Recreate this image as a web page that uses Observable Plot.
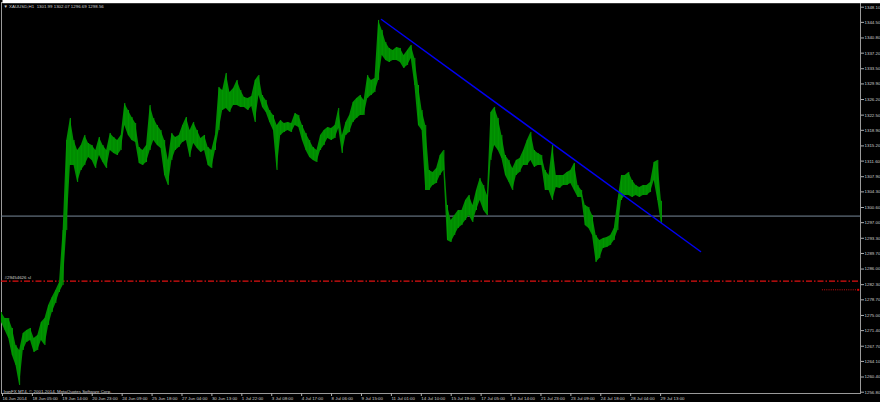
<!DOCTYPE html>
<html><head><meta charset="utf-8">
<script src="https://cdn.jsdelivr.net/npm/d3@7"></script>
<script src="https://cdn.jsdelivr.net/npm/@observablehq/plot@0.6"></script>
<style>
html,body{margin:0;padding:0;background:#000;overflow:hidden;}
#chart{width:880px;height:402px;}
</style></head><body><div id="chart"></div>
<script>
const symbolTitle = "XAUUSD,H1  1301.99 1302.07 1296.69 1298.56";
const copyright = "IronFX MT4, \u00a9 2001-2014, MetaQuotes Software Corp.";
const barStep = 4;            // one sample every 4 hourly bars
const visibleBars = 947.6;    // bars shown across the window

const highs = [1275.70,1274.28,1274.28,1271.91,1267.88,1266.69,1270.72,1271.43,1271.91,1269.54,
1270.25,1273.33,1274.28,1277.36,1279.26,1280.92,1282.82,1295.15,1316.49,1321.71,
1316.49,1314.12,1315.30,1317.68,1315.78,1315.30,1314.12,1317.20,1315.30,1314.12,
1318.15,1317.20,1316.49,1317.68,1325.26,1323.60,1321.94,1320.52,1314.83,1314.12,
1315.30,1324.79,1321.71,1320.05,1318.86,1316.49,1311.75,1318.15,1317.20,1317.68,
1320.05,1321.94,1318.86,1320.76,1318.86,1316.96,1317.68,1314.83,1314.12,1317.68,
1329.06,1328.35,1332.38,1327.87,1328.82,1330.72,1328.35,1326.69,1326.45,1326.92,
1330.72,1331.90,1327.16,1325.98,1323.60,1322.42,1320.05,1321.23,1320.52,1320.76,
1320.52,1322.89,1322.42,1320.05,1318.15,1316.49,1314.83,1314.12,1317.68,1318.86,
1319.57,1319.34,1320.05,1324.08,1317.68,1320.76,1322.42,1325.50,1326.45,1327.16,
1325.98,1331.90,1330.72,1331.19,1344.95,1342.58,1339.73,1338.31,1337.83,1338.54,
1338.31,1336.65,1337.83,1339.02,1335.94,1329.53,1323.60,1320.05,1309.38,1308.90,
1309.85,1312.93,1314.12,1301.08,1297.52,1298.70,1299.89,1299.89,1302.26,1303.45,
1301.08,1304.63,1307.48,1305.82,1303.45,1323.13,1324.32,1321.71,1317.68,1312.93,
1311.75,1309.85,1311.75,1312.22,1314.12,1316.49,1318.39,1314.12,1313.41,1312.93,
1309.38,1308.19,1315.30,1308.19,1308.19,1308.19,1308.90,1309.38,1311.04,1305.82,
1304.63,1301.08,1300.60,1298.70,1293.96,1292.78,1293.25,1293.49,1293.96,1295.62,
1302.26,1308.19,1308.19,1308.90,1307.01,1305.82,1305.34,1305.82,1305.82,1306.53,
1311.27,1311.75,1302.07];

const lows = [1273.33,1271.43,1269.54,1265.51,1263.13,1258.39,1266.69,1268.59,1269.06,1266.22,
1266.69,1269.06,1267.88,1272.62,1275.70,1277.84,1280.45,1282.11,1295.15,1310.56,
1310.56,1306.53,1309.38,1310.56,1312.46,1311.75,1309.85,1312.93,1311.27,1309.85,
1314.12,1313.41,1312.93,1314.12,1320.05,1317.68,1316.49,1316.02,1311.04,1310.56,
1311.27,1314.12,1316.49,1315.30,1314.59,1308.19,1305.82,1311.75,1314.12,1314.83,
1316.02,1316.49,1312.46,1315.78,1314.59,1313.64,1314.12,1310.56,1309.85,1314.12,
1318.86,1323.60,1324.08,1323.13,1324.79,1324.79,1324.32,1324.32,1323.60,1324.55,
1320.76,1327.16,1324.32,1323.13,1320.76,1318.86,1309.38,1317.68,1318.39,1318.86,
1318.39,1320.05,1319.57,1316.49,1314.12,1312.46,1311.75,1311.27,1314.12,1315.30,
1316.96,1316.49,1316.96,1319.34,1313.41,1317.68,1318.39,1320.76,1321.71,1322.42,
1322.42,1326.45,1327.16,1327.87,1330.72,1336.65,1335.46,1334.99,1335.46,1335.46,
1334.99,1333.56,1334.28,1335.94,1329.53,1320.05,1318.86,1304.63,1304.63,1305.82,
1306.29,1308.19,1309.38,1292.78,1292.30,1293.96,1295.62,1296.33,1297.52,1298.70,
1297.04,1299.89,1302.26,1299.89,1298.70,1311.75,1315.30,1314.12,1312.22,1308.19,
1306.53,1304.63,1308.19,1308.90,1310.56,1310.56,1311.75,1310.09,1310.56,1310.56,
1304.63,1304.63,1302.26,1305.34,1305.11,1305.82,1305.82,1306.29,1304.63,1302.97,
1302.97,1296.33,1295.62,1293.96,1287.56,1288.51,1290.88,1291.12,1291.59,1292.78,
1295.15,1302.26,1303.45,1303.45,1302.97,1303.45,1302.97,1303.45,1303.45,1304.16,
1307.01,1302.26,1296.69];

const lastClose = 1298.56;
const stopLoss = 1283.13;
const stopLabel = "#29454626 sl";
const markerLevel = 1281.08;

const trendBars = [419.2, 771.1];
const trendPrices = [1345.18, 1290.16];

const yTicks = [1256.80,1260.40,1264.10,1267.70,1271.40,1275.00,1278.70,1282.30,1286.00,1289.70,
1293.30,1297.00,1300.60,1304.30,1307.90,1311.60,1315.20,1318.90,1322.50,1326.20,1329.90,
1333.50,1337.20,1340.80,1344.50,1348.10];

const xTickBars = [0,33,66,99,132,165,198,231,264,297,330,363,396,429,462,495,528,561,594,627,660,693,726];
const xTickLabels = ["16 Jun 2014","18 Jun 05:00","19 Jun 14:00","20 Jun 23:00","24 Jun 09:00","25 Jun 18:00",
"27 Jun 04:00","30 Jun 13:00","1 Jul 22:00","3 Jul 08:00","4 Jul 17:00","8 Jul 06:00","9 Jul 15:00",
"11 Jul 01:00","14 Jul 10:00","15 Jul 19:00","17 Jul 05:00","18 Jul 14:00","21 Jul 23:00","23 Jul 09:00",
"24 Jul 18:00","28 Jul 04:00","29 Jul 13:00"];

const bars = highs.map((h, i) => ({bar: i * barStep, high: h, low: lows[i]}));
const trend = trendBars.map((b, i) => ({bar: b, price: trendPrices[i]}));

const FONT = "Liberation Sans, Arial, sans-serif";
const FS = 4.4;
const TXT = "#cfcfcf";

const chart = Plot.plot({
  width: 880, height: 402,
  marginLeft: 1, marginRight: 20, marginTop: 2, marginBottom: 9,
  style: {background: "#000", color: TXT, fontFamily: FONT, fontSize: FS + "px"},
  x: {type: "linear", domain: [0, visibleBars], label: null},
  y: {domain: [1256.49, 1349.21], label: null},
  marks: [
    Plot.frame({stroke: "#9a9a9a"}),
    Plot.ruleY([lastClose], {y: d => d, stroke: "#778899", strokeWidth: 1}),
    Plot.ruleY([stopLoss], {y: d => d, stroke: "#e01010", strokeWidth: 1.2, strokeDasharray: "6,2,1.5,2"}),
    Plot.ruleY([markerLevel], {y: d => d, x1: () => visibleBars - 42, x2: () => visibleBars - 2.5,
      stroke: "#e01010", strokeWidth: 0.9, strokeDasharray: "1,1.2"}),
    Plot.dot([markerLevel], {y: d => d, x: () => visibleBars - 2.5, symbol: "square", r: 1.1, fill: "#e00000", stroke: null}),
    Plot.areaY(bars, {x: "bar", y1: "low", y2: "high", curve: "linear", fill: "#008c00"}),
    Plot.ruleX(bars, {x: "bar", y1: "low", y2: "high", stroke: "#009a00", strokeWidth: 1}),
    Plot.line(trend, {x: "bar", y: "price", stroke: "#0000f0", strokeWidth: 1.5}),
    Plot.text([stopLabel], {frameAnchor: "left", y: () => stopLoss, text: d => d, dx: 3, dy: -4,
      textAnchor: "start", fill: TXT, fontSize: FS, fontFamily: FONT}),
    Plot.text([symbolTitle], {frameAnchor: "top-left", text: d => "\u25BC " + d, dx: 2, dy: 2,
      textAnchor: "start", fill: TXT, fontSize: FS, fontFamily: FONT}),
    Plot.text([copyright], {frameAnchor: "bottom-left", text: d => d, dx: 2, dy: -1,
      textAnchor: "start", fill: TXT, fontSize: FS, fontFamily: FONT}),
    Plot.axisY({anchor: "right", ticks: yTicks, tickFormat: d => d.toFixed(2), tickSize: 3, tickPadding: 1,
      fontSize: FS, stroke: "#b0b0b0", fill: TXT, label: null}),
    Plot.axisX({ticks: xTickBars, tickFormat: (d) => xTickLabels[xTickBars.indexOf(d)], tickSize: 3, tickPadding: 0,
      textAnchor: "start", dx: 1, fontSize: FS, stroke: "#b0b0b0", fill: TXT, label: null}),
    Plot.text([lastClose], {y: d => d, frameAnchor: "right", text: d => d.toFixed(2), dx: 3,
      textAnchor: "start", fill: "#000", fontSize: FS, fontFamily: FONT, className: "pricebox"})
  ]
});
document.getElementById("chart").appendChild(chart);

// white box behind the current price label
d3.select(chart).selectAll(".pricebox text").each(function() {
  const b = this.getBBox();
  d3.select(this.parentNode).insert("rect", () => this)
    .attr("x", b.x - 1).attr("y", b.y - 0.3).attr("width", 880 - (b.x - 1)).attr("height", b.height + 0.6)
    .attr("fill", "#ffffff");
});
</script>
</body></html>
